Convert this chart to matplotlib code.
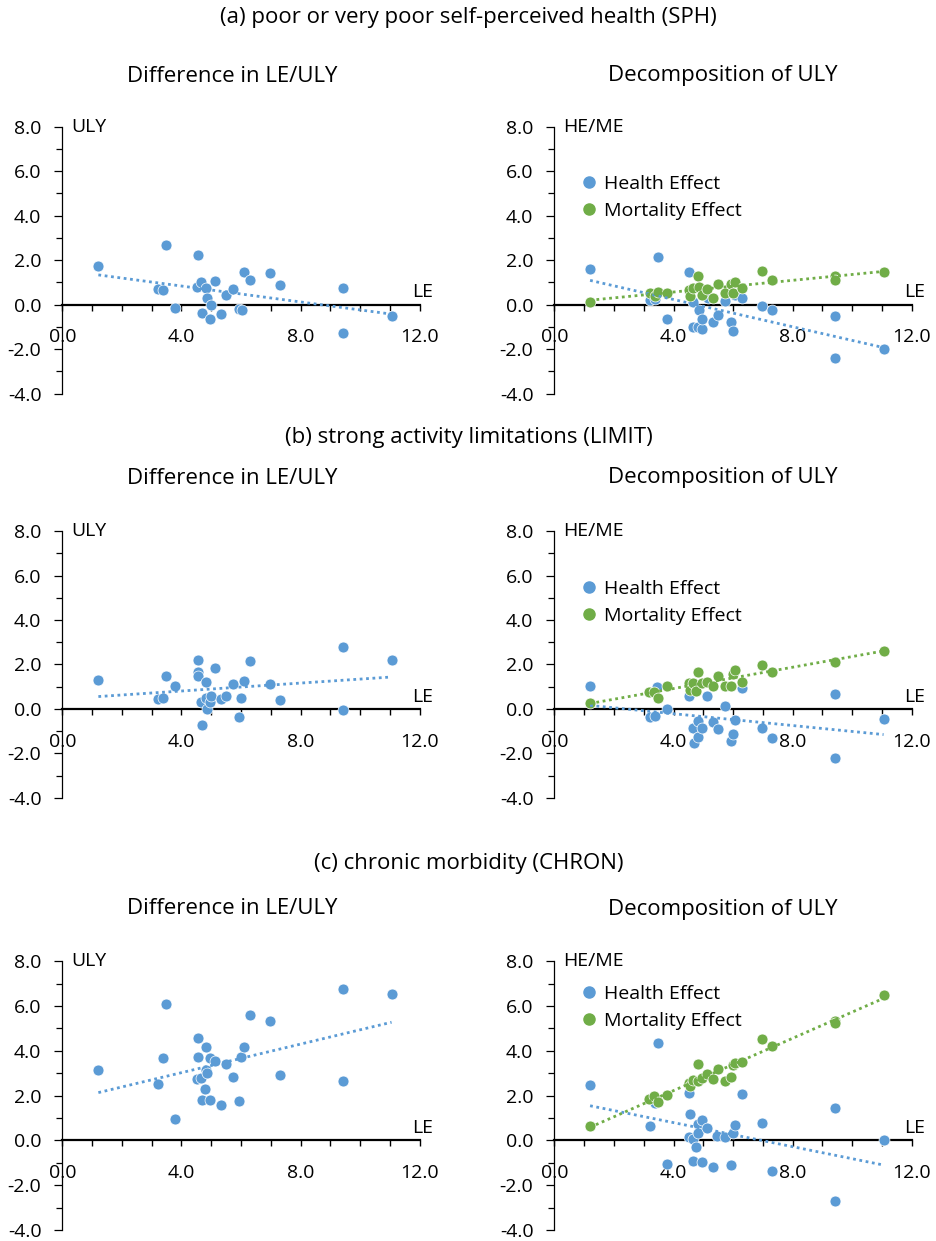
import numpy as np
import matplotlib.pyplot as plt
from matplotlib.ticker import MultipleLocator
from matplotlib.lines import Line2D

plt.rcParams['font.family'] = ['Open Sans', 'DejaVu Sans']

BLUE = '#5b9bd5'
GREEN = '#70ad47'

# (a) SPH - difference in LE / ULY
x_sph = [1.21, 3.21, 3.39, 3.47, 3.78, 4.51, 4.54, 4.65, 4.69, 4.82, 4.84, 4.96, 4.98,
         5.13, 5.31, 5.48, 5.74, 5.93, 6.02, 6.09, 6.29, 6.97, 7.32, 9.41, 9.43, 11.05]
uly_sph = [1.74, 0.69, 0.65, 2.66, -0.14, 0.80, 2.21, 1.01, -0.36, 0.74, 0.30, -0.66, -0.03,
           1.08, -0.44, 0.42, 0.69, -0.21, -0.26, 1.46, 1.10, 1.40, 0.89, 0.75, -1.26, -0.53]

# (a) SPH - decomposition
he_x_sph = [1.20, 3.22, 3.38, 3.47, 3.77, 4.51, 4.65, 4.67, 4.83, 4.84, 4.97, 4.97, 5.15,
            5.32, 5.49, 5.73, 5.92, 6.00, 6.07, 6.29, 6.98, 7.31, 9.43, 9.43, 11.05]
he_sph = [1.59, 0.23, 0.27, 2.13, -0.66, 1.47, -1.00, 0.12, -1.00, -0.22, -1.11, -0.66, 0.30,
          -0.78, -0.48, 0.15, -0.78, -1.20, 0.42, 0.32, -0.08, -0.23, -0.51, -2.39, -1.98]
me_x_sph = [1.20, 3.21, 3.38, 3.47, 3.77, 4.52, 4.57, 4.65, 4.82, 4.84, 4.97, 5.14,
            5.32, 5.48, 5.73, 5.93, 5.98, 6.08, 6.29, 6.97, 7.31, 9.43, 9.43, 11.05]
me_sph = [0.14, 0.50, 0.38, 0.57, 0.54, 0.65, 0.39, 0.75, 1.28, 0.77, 0.45, 0.72,
          0.32, 0.92, 0.53, 0.92, 0.50, 1.02, 0.75, 1.49, 1.10, 1.28, 1.10, 1.46]

# (b) LIMIT
x_lim = [1.21, 3.21, 3.39, 3.47, 3.78, 4.54, 4.55, 4.54, 4.65, 4.69, 4.82, 4.82, 4.84, 4.96,
         4.98, 5.13, 5.31, 5.48, 5.74, 5.93, 6.01, 6.09, 6.29, 6.97, 7.32, 9.41, 9.43, 11.05]
uly_lim = [1.31, 0.45, 0.48, 1.49, 1.01, 2.22, 1.65, 1.49, 0.30, -0.71, 1.19, 0.48, 0.00, 0.30,
           0.56, 1.83, 0.44, 0.59, 1.14, -0.38, 0.48, 1.26, 2.16, 1.11, 0.41, 2.78, -0.05, 2.21]

he_x_lim = [1.20, 3.21, 3.38, 3.46, 3.77, 4.52, 4.65, 4.69, 4.83, 4.83, 4.97, 5.13,
            5.32, 5.49, 5.73, 5.93, 6.00, 6.07, 6.29, 6.97, 7.31, 9.43, 9.43, 11.05]
he_lim = [1.05, -0.35, -0.30, 1.00, 0.00, 0.56, -0.87, -1.55, -0.53, -1.28, -0.87, 0.60,
          -0.59, -0.90, 0.11, -1.44, -1.14, -0.50, 0.96, -0.87, -1.29, 0.66, -2.22, -0.45]
me_x_lim = [1.20, 3.19, 3.36, 3.47, 3.77, 4.52, 4.56, 4.64, 4.74, 4.82, 4.97, 5.14,
            5.32, 5.48, 5.73, 5.93, 5.99, 6.08, 6.29, 6.97, 7.31, 9.43, 11.05]
me_lim = [0.26, 0.74, 0.78, 0.48, 1.01, 1.16, 0.86, 1.16, 0.81, 1.67, 1.16, 1.23,
          1.01, 1.46, 1.01, 1.05, 1.56, 1.76, 1.20, 1.98, 1.67, 2.13, 2.61]

# (c) CHRON
x_chr = [1.21, 3.22, 3.38, 3.47, 3.78, 4.53, 4.54, 4.56, 4.65, 4.69, 4.79, 4.82, 4.82, 4.87, 4.96,
         4.96, 5.13, 5.31, 5.48, 5.74, 5.93, 6.01, 6.09, 6.29, 6.97, 7.32, 9.41, 9.43, 11.05]
uly_chr = [3.14, 2.52, 3.68, 6.10, 0.97, 2.76, 4.56, 3.71, 2.79, 1.79, 2.31, 4.19, 3.14, 3.03, 3.70,
           1.80, 3.53, 1.58, 3.40, 2.85, 1.74, 3.74, 4.19, 5.60, 5.35, 2.91, 6.77, 2.65, 6.53]

he_x_chr = [1.20, 3.21, 3.38, 3.47, 3.77, 4.52, 4.55, 4.52, 4.65, 4.67, 4.77, 4.83, 4.83, 4.96,
            4.97, 5.14, 5.32, 5.46, 5.73, 5.93, 6.01, 6.07, 6.29, 6.97, 7.31, 9.43, 9.43, 11.05]
he_chr = [2.48, 0.65, 1.68, 4.35, -1.05, 2.14, 1.20, 0.15, 0.08, -0.90, -0.30, 0.75, 0.33, -0.95,
          0.90, 0.56, -1.20, 0.20, 0.15, -1.10, 0.33, 0.68, 2.08, 0.80, -1.35, 1.47, -2.71, 0.00]
me_x_chr = [1.20, 3.19, 3.36, 3.47, 3.77, 4.52, 4.55, 4.65, 4.82, 4.82, 4.97, 5.14,
            5.32, 5.48, 5.73, 5.93, 5.99, 6.08, 6.29, 6.97, 7.31, 9.43, 9.43, 11.05]
me_chr = [0.65, 1.83, 2.00, 1.70, 2.03, 2.56, 2.41, 2.71, 3.41, 2.66, 2.78, 2.96,
          2.75, 3.19, 2.66, 2.83, 3.37, 3.46, 3.50, 4.54, 4.24, 5.34, 5.26, 6.50]

section_titles = ['(a) poor or very poor self-perceived health (SPH)',
                  '(b) strong activity limitations (LIMIT)',
                  '(c) chronic morbidity (CHRON)']

FS = 14

fig = plt.figure(figsize=(9.37, 12.41), dpi=100)


def setup(ax, ylab):
    ax.set_xlim(0, 12)
    ax.set_ylim(-4, 8)
    ax.spines['top'].set_visible(False)
    ax.spines['right'].set_visible(False)
    ax.spines['bottom'].set_position(('data', 0))
    ax.spines['bottom'].set_linewidth(1.6)
    ax.spines['left'].set_linewidth(0.9)
    ax.patch.set_alpha(0)
    ax.set_xticks([0, 4, 8, 12])
    ax.set_xticklabels(['0.0', '4.0', '8.0', '12.0'])
    ax.xaxis.set_minor_locator(MultipleLocator(1))
    ax.set_yticks(range(-4, 9, 2))
    ax.set_yticklabels(['%.1f' % v for v in range(-4, 9, 2)])
    ax.yaxis.set_minor_locator(MultipleLocator(1))
    ax.tick_params(axis='x', which='both', direction='out', length=4, width=1, pad=13, labelsize=FS)
    ax.tick_params(axis='y', which='major', direction='out', length=6, width=0.9, pad=9, labelsize=FS)
    ax.tick_params(axis='y', which='minor', direction='out', length=4, width=0.9)
    ax.text(0.3, 8, ylab, fontsize=FS, ha='left', va='center')
    ax.text(12.1, 0.55, 'LE', fontsize=FS, ha='center', va='center', clip_on=False)


def trend(ax, x, y, color):
    x = np.asarray(x)
    k, b = np.polyfit(x, y, 1)
    xs = np.array([x.min(), x.max()])
    ax.plot(xs, k * xs + b, color=color, linestyle=(0, (1, 1.3)), linewidth=2, zorder=4)


def left_panel(rect, x, y):
    ax = fig.add_axes(rect)
    setup(ax, 'ULY')
    ax.scatter(x, y, s=62, color=BLUE, edgecolor='white', linewidth=0.5, zorder=3)
    trend(ax, x, y, BLUE)
    return ax


def right_panel(rect, hx, he, mx, me, leg_y):
    ax = fig.add_axes(rect)
    setup(ax, 'HE/ME')
    ax.scatter(hx, he, s=62, color=BLUE, edgecolor='white', linewidth=0.5, zorder=3)
    ax.scatter(mx, me, s=62, color=GREEN, edgecolor='white', linewidth=0.5, zorder=3)
    trend(ax, hx, he, BLUE)
    trend(ax, mx, me, GREEN)
    handles = [Line2D([], [], marker='o', linestyle='none', color=BLUE, markersize=8),
               Line2D([], [], marker='o', linestyle='none', color=GREEN, markersize=8)]
    ax.legend(handles, ['Health Effect', 'Mortality Effect'], loc='center left',
              bbox_to_anchor=(0.9, leg_y), bbox_transform=ax.transData, frameon=False,
              fontsize=FS, handlelength=0.8, handletextpad=0.35, labelspacing=0.45,
              borderpad=0, borderaxespad=0)
    return ax


rows = [(0.6828, 0.2152), (0.3572, 0.2147), (0.00886, 0.2165)]
left_x, right_x, w = 0.0665, 0.5916, 0.3816

left_panel([left_x, rows[0][0], w, rows[0][1]], x_sph, uly_sph)
right_panel([right_x, rows[0][0], w, rows[0][1]], he_x_sph, he_sph, me_x_sph, me_sph, 4.83)
left_panel([left_x, rows[1][0], w, rows[1][1]], x_lim, uly_lim)
right_panel([right_x, rows[1][0], w, rows[1][1]], he_x_lim, he_lim, me_x_lim, me_lim, 4.79)
left_panel([left_x, rows[2][0], w, rows[2][1]], x_chr, uly_chr)
right_panel([right_x, rows[2][0], w, rows[2][1]], he_x_chr, he_chr, me_x_chr, me_chr, 5.95)

H = 1241.0
sec_y = [18, 437, 863]
sub_y = [76, 478, 909]
for t, sy, py in zip(section_titles, sec_y, sub_y):
    fig.text(0.5, 1 - sy / H, t, fontsize=16, ha='center', va='center')
    fig.text(232 / 937, 1 - py / H, 'Difference in LE/ULY', fontsize=16, ha='center', va='center')
    fig.text(723 / 937, 1 - py / H, 'Decomposition of ULY', fontsize=16, ha='center', va='center')

fig.savefig('out.png', dpi=100)
